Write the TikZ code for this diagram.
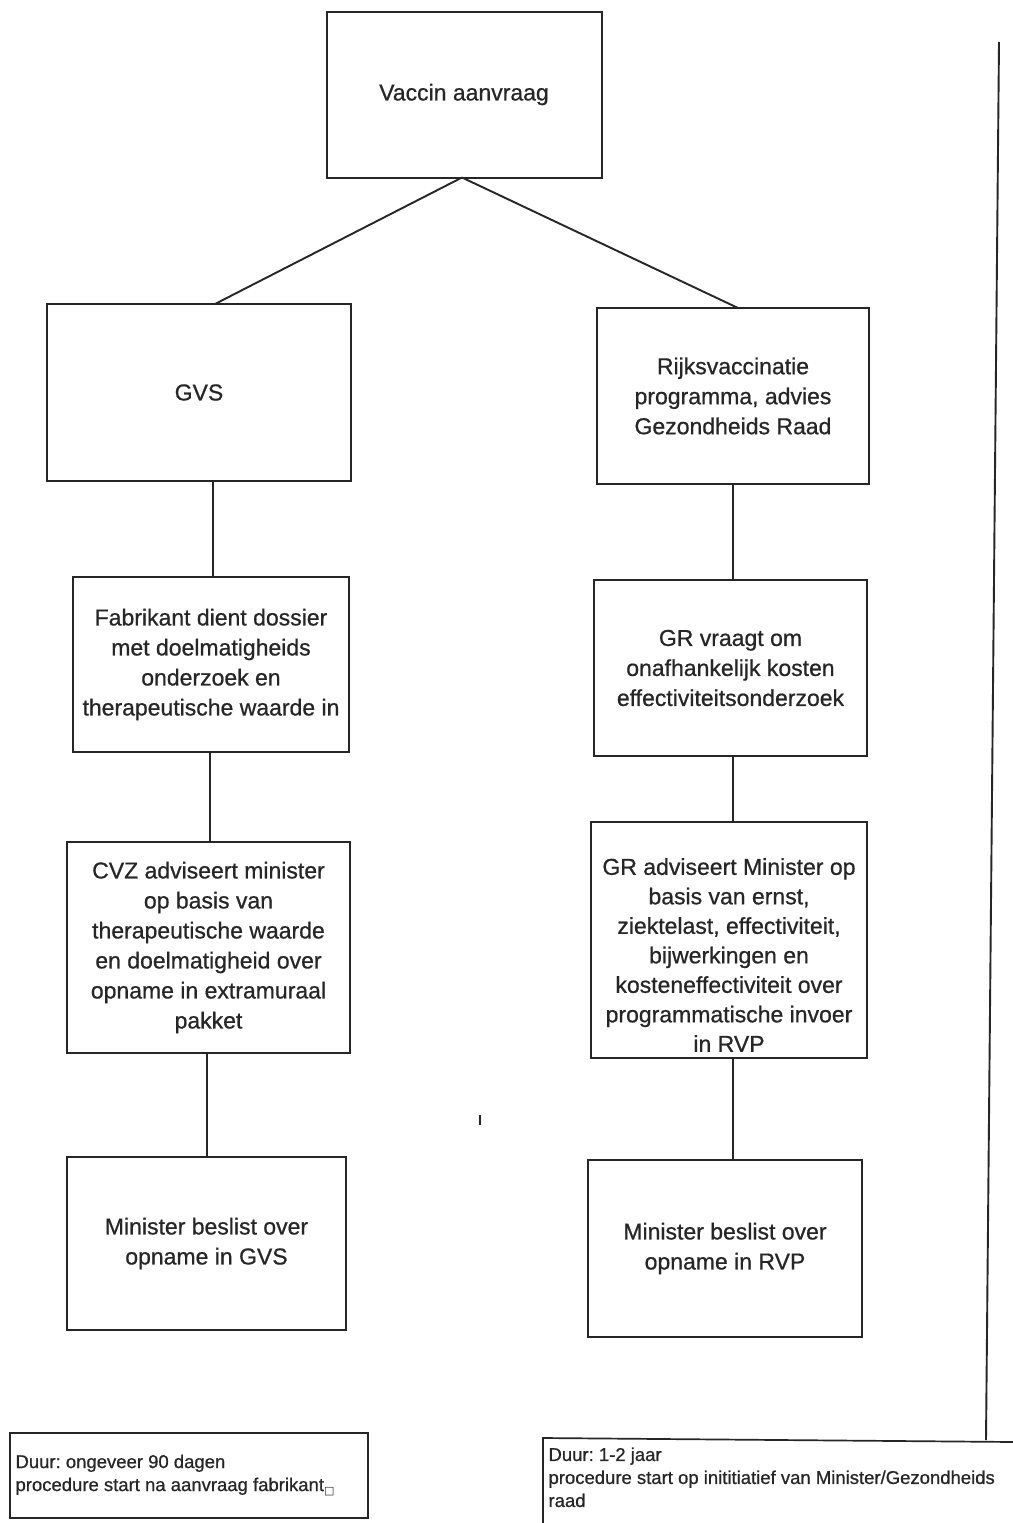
\documentclass[tikz,border=0pt]{standalone}
\usepackage{fontspec}
\setmainfont{Liberation Sans}[FakeBold=0.7]
\newfontfamily\symfont{DejaVu Sans}
\definecolor{ink}{HTML}{262626}
\frenchspacing
\begin{document}
\begin{tikzpicture}[x=1pt,y=-1pt,
  box/.style={draw=ink,line width=2pt,rectangle,inner sep=0pt,align=center,
    text=ink,font=\fontsize{23}{30}\selectfont},
  conn/.style={draw=ink,line width=1.9pt},
  notetext/.style={text=ink,align=left,font=\fontsize{18.5}{23}\selectfont}]
\useasboundingbox[fill=white] (0,0) rectangle (1012,1523);
% boxes
\node[box,minimum width=275,minimum height=166] (top) at (464,94.5) {Vaccin aanvraag};
\node[box,minimum width=304,minimum height=177] (gvs) at (199,392.5) {GVS};
\node[box,minimum width=272,minimum height=176] (rvp) at (733,396) {Rijksvaccinatie\\programma, advies\\Gezondheids Raad};
\node[box,minimum width=276,minimum height=175] (fab) at (211,664.5) {Fabrikant dient dossier\\met doelmatigheids\\onderzoek en\\therapeutische waarde in};
\node[box,minimum width=273,minimum height=176] (grv) at (730.5,668) {GR vraagt om\\onafhankelijk kosten\\effectiviteitsonderzoek};
\node[box,minimum width=283,minimum height=211] (cvz) at (208.5,947.5) {CVZ adviseert minister\\op basis van\\therapeutische waarde\\en doelmatigheid over\\opname in extramuraal\\pakket};
\node[box,minimum width=276,minimum height=236] (gra) at (729,940) {};
\node[text=ink,align=center,font=\fontsize{23}{29.5}\selectfont] (gratext) at (729,955) {GR adviseert Minister op\\basis van ernst,\\ziektelast, effectiviteit,\\bijwerkingen en\\kosteneffectiviteit over\\programmatische invoer\\in RVP};
\node[box,minimum width=279,minimum height=173] (mgvs) at (206.5,1243.5) {Minister beslist over\\opname in GVS};
\node[box,minimum width=274,minimum height=177] (mrvp) at (725,1248.5) {Minister beslist over\\opname in RVP};
% connectors
\coordinate (tb) at (462,177.5);
\draw[conn] (tb) -- (215,304);
\draw[conn] (tb) -- (738,308);
\draw[conn] (213,481) -- (213,577);
\draw[conn] (733,484) -- (733,580);
\draw[conn] (210,752) -- (210,842);
\draw[conn] (733,756) -- (733,822);
\draw[conn] (207,1053) -- (207,1157);
\draw[conn] (733,1058) -- (733,1160);
% stray tick
\coordinate (t1) at (480,1115);
\coordinate (t2) at (480,1125);
\draw[conn] (t1) -- (t2);
% right vertical line
\coordinate (v1) at (999,42);
\coordinate (v2) at (986,1440);
\draw[conn] (v1) -- (v2);
% bottom notes
\draw[draw=ink,line width=1.7pt] (10,1433) rectangle (368,1518);
\node[notetext,anchor=west] (n1) at (12,1475) {Duur: ongeveer 90 dagen\\procedure start na aanvraag fabrikant{\symfont\fontsize{11}{11}\selectfont\raisebox{-3pt}{□}}};
\draw[draw=ink,line width=1.7pt] (1014,1442) -- (543,1438) -- (543,1526);
\node[notetext,anchor=north west] (n2) at (545,1444) {Duur: 1-2 jaar\\procedure start op inititiatief van Minister/Gezondheids\\raad};
\end{tikzpicture}
\end{document}
